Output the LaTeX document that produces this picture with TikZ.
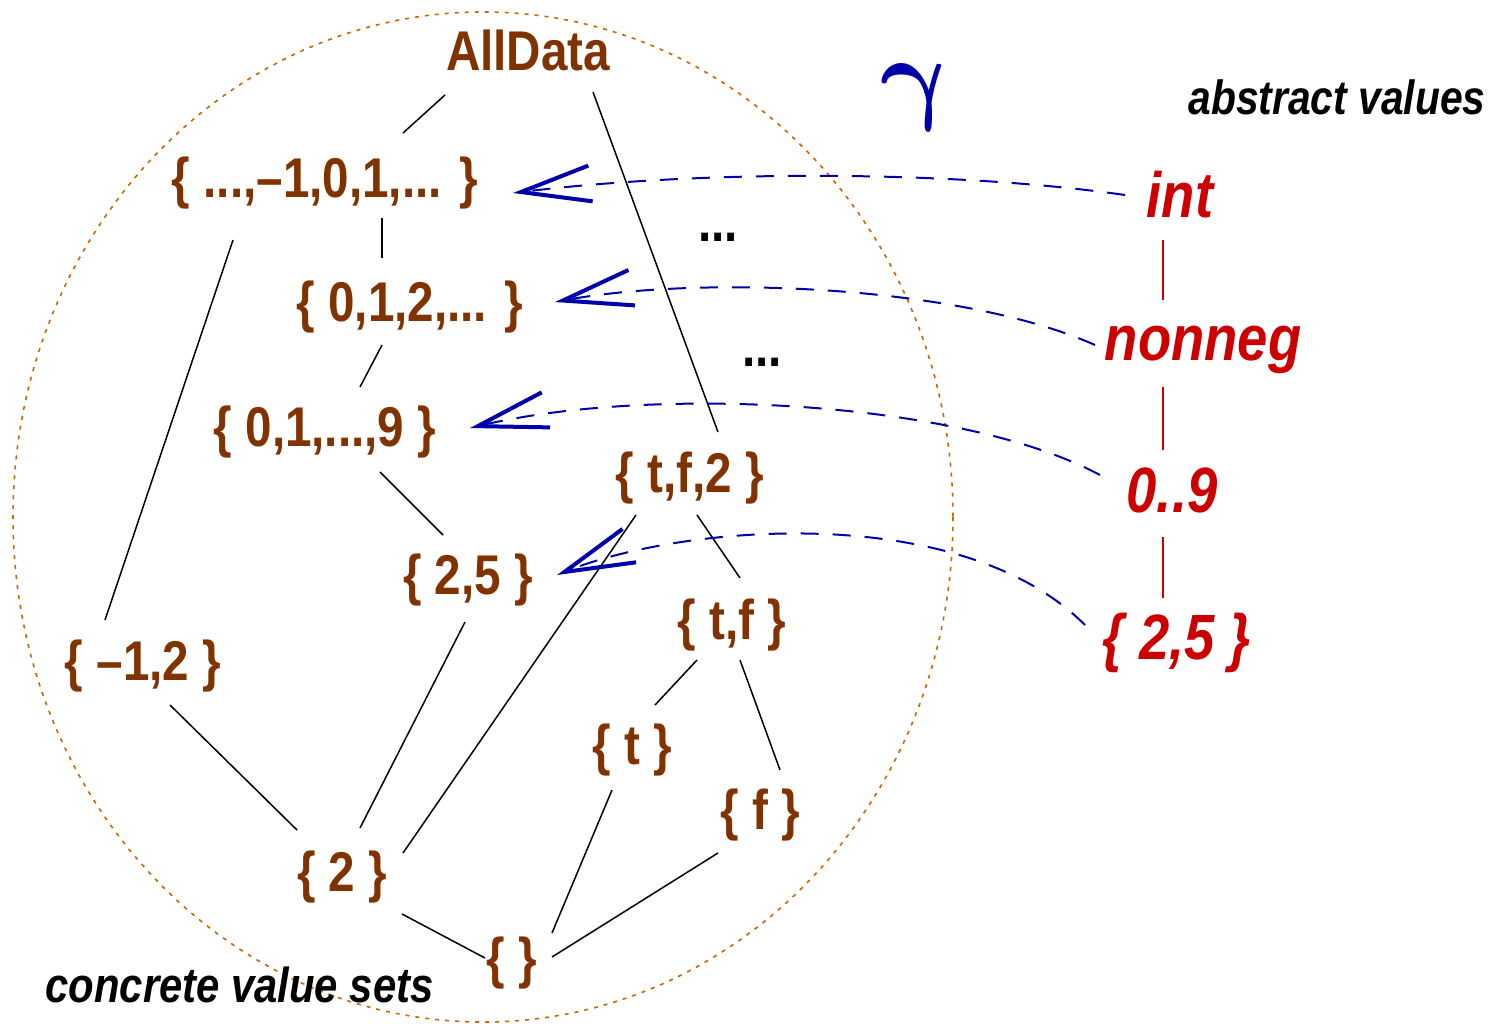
\documentclass[tikz,border=0pt]{standalone}
\usepackage{fontspec}
\newfontfamily\hv[FakeStretch=0.85]{Liberation Sans}
\usetikzlibrary{arrows.meta}
\definecolor{cbrown}{RGB}{128,51,0}
\definecolor{cred}{RGB}{204,0,0}
\definecolor{cblue}{RGB}{0,0,170}
\definecolor{corange}{RGB}{204,102,0}
\begin{document}
\begin{tikzpicture}[x=0.5pt,y=-0.5pt,
  cv/.style={text=cbrown,font=\hv\bfseries\fontsize{28}{30}\selectfont,inner sep=0pt},
  av/.style={text=cred,font=\hv\bfseries\itshape\fontsize{32}{34}\selectfont,inner sep=0pt},
  lbl/.style={font=\hv\bfseries\itshape\fontsize{24}{26}\selectfont,inner sep=0pt},
  dotsnode/.style={font=\hv\bfseries\fontsize{28}{30}\selectfont,inner sep=0pt},
  edge/.style={line width=0.75pt},
  redge/.style={cred,line width=0.75pt},
  gamarrow/.style={cblue,line width=1pt,dash pattern=on 9pt off 7pt,
    -{Straight Barb[length=35pt,width=18pt,line width=2pt]}}]
\useasboundingbox (0,0) rectangle (1488,1023);
% ellipse
\draw[corange,line width=0.8pt,dash pattern=on 2pt off 3pt] (483,517) ellipse [x radius=470, y radius=505];
% concrete nodes
\node[cv] (AD) at (528,50) {AllData};
\node[cv] (Z) at (325,183) {\{ ...,–1,0,1,... \}};
\node[cv] (N) at (410,307) {\{ 0,1,2,... \}};
\node[cv] (D) at (325,432) {\{ 0,1,...,9 \}};
\node[cv] (TF2) at (690,478) {\{ t,f,2 \}};
\node[cv] (T25) at (468,580) {\{ 2,5 \}};
\node[cv] (TF) at (732,625) {\{ t,f \}};
\node[cv] (M12) at (143,666) {\{ –1,2 \}};
\node[cv] (T) at (632,750) {\{ t \}};
\node[cv] (F) at (760,815) {\{ f \}};
\node[cv] (TWO) at (342,877) {\{ 2 \}};
\node[cv] (E) at (512,963) {\{ \}};
\node[dotsnode] (DOT1) at (718,237) {...};
\node[dotsnode] (DOT2) at (762,362) {...};
% abstract nodes
\node[av] (INT) at (1180,195) {int};
\node[av] (NN) at (1203,350) {nonneg};
\node[av] (ZN) at (1172,490) {0..9};
\node[av] (R25) at (1177,643) {\{ 2,5 \}};
% labels
\node[lbl,anchor=west] (ABS) at (1188,97) {abstract values};
\node[lbl,anchor=west,font=\hv\bfseries\itshape\fontsize{24.6}{26}\selectfont] (CON) at (45,985) {concrete value sets};
\node[text=cblue,inner sep=0pt,xslant=-0.2,transform shape] (GAM) at (918,97) {\scalebox{5.2}{\boldmath$\gamma$}};
% lattice edges
\draw[edge] ([shift={(-83,45)}]AD.center) -- ([shift={(78,-50)}]Z.center);
\draw[edge] ([shift={(65,42)}]AD.center) -- ([shift={(28,-46)}]TF2.center);
\draw[edge] ([shift={(57,35)}]Z.center) -- ([shift={(-28,-49)}]N.center);
\draw[edge] ([shift={(-92,57)}]Z.center) -- ([shift={(-38,-46)}]M12.center);
\draw[edge] ([shift={(-28,38)}]N.center) -- ([shift={(35,-45)}]D.center);
\draw[edge] ([shift={(55,40)}]D.center) -- ([shift={(-25,-45)}]T25.center);
\draw[edge] ([shift={(7,37)}]TF2.center) -- ([shift={(8,-47)}]TF.center);
\draw[edge] ([shift={(-54,37)}]TF2.center) -- ([shift={(61,-24)}]TWO.center);
\draw[edge] ([shift={(-3,42)}]T25.center) -- ([shift={(18,-49)}]TWO.center);
\draw[edge] ([shift={(-35,35)}]TF.center) -- ([shift={(23,-45)}]T.center);
\draw[edge] ([shift={(8,35)}]TF.center) -- ([shift={(20,-45)}]F.center);
\draw[edge] ([shift={(27,39)}]M12.center) -- ([shift={(-45,-47)}]TWO.center);
\draw[edge] ([shift={(-20,40)}]T.center) -- ([shift={(40,-30)}]E.center);
\draw[edge] ([shift={(-42,38)}]F.center) -- ([shift={(40,-6)}]E.center);
\draw[edge] ([shift={(60,37)}]TWO.center) -- ([shift={(-27,-5)}]E.center);
% abstract edges
\draw[redge] ([shift={(-17,45)}]INT.center) -- ([shift={(-40,-50)}]NN.center);
\draw[redge] ([shift={(-40,37)}]NN.center) -- ([shift={(-9,-40)}]ZN.center);
\draw[redge] ([shift={(-9,47)}]ZN.center) -- ([shift={(-14,-45)}]R25.center);
% gamma arrows
\draw[gamarrow] ([shift={(-55,0)}]INT.center) .. controls (950,170) and (700,170) .. ([shift={(188,10)}]Z.center);
\draw[gamarrow] ([shift={(-108,-5)}]NN.center) .. controls (960,285) and (700,275) .. ([shift={(145,-5)}]N.center);
\draw[gamarrow] ([shift={(-72,-15)}]ZN.center) .. controls (960,400) and (650,385) .. ([shift={(145,-4)}]D.center);
\draw[gamarrow] ([shift={(-92,-18)}]R25.center) .. controls (960,500) and (680,525) .. ([shift={(89,-5)}]T25.center);
\end{tikzpicture}
\end{document}
